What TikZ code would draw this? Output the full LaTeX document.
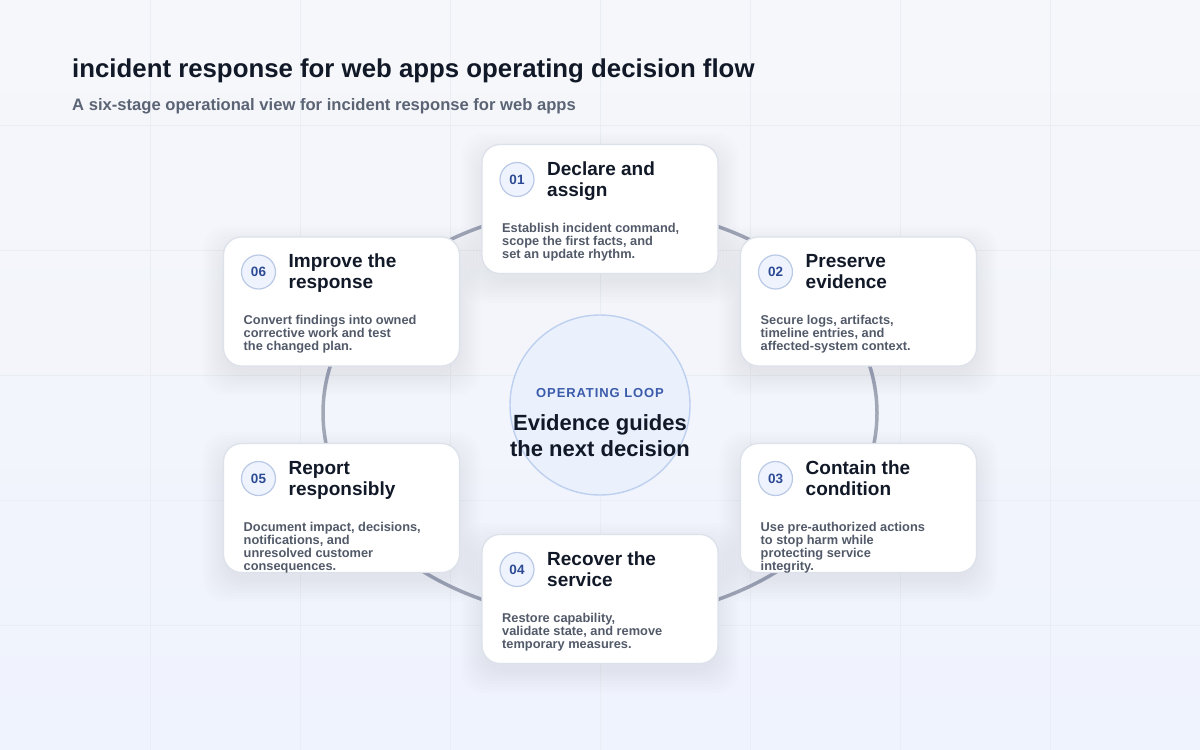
\documentclass[tikz,border=0pt]{standalone}
\usepackage{fontspec}
\setmainfont{Liberation Sans}
\newfontfamily\spacedfont[LetterSpace=7]{Liberation Sans}
\usetikzlibrary{calc}
\definecolor{bgtop}{HTML}{F6F7FA}
\definecolor{bgbot}{HTML}{EFF3FD}
\definecolor{gridc}{HTML}{E9EDF4}
\definecolor{ringc}{HTML}{A2A8B5}
\definecolor{cardline}{HTML}{DCE1EA}
\definecolor{numfill}{HTML}{EEF3FD}
\definecolor{numline}{HTML}{B9C9E6}
\definecolor{numtext}{HTML}{2D4A94}
\definecolor{ink}{HTML}{111827}
\definecolor{muted}{HTML}{525A69}
\definecolor{subc}{HTML}{5B6475}
\definecolor{hubfill}{HTML}{EAF1FD}
\definecolor{hubline}{HTML}{BDD0EF}
\definecolor{hubtext}{HTML}{3B5BAB}
\tikzset{
  gridline/.style={draw=gridc, line width=1pt},
  ringline/.style={draw=ringc, line width=3.5pt},
  card/.style={draw=cardline, line width=1.3pt, fill=white, rounded corners=18pt,
    minimum width=236pt, minimum height=129pt, inner sep=0pt},
  numc/.style={circle, draw=numline, line width=1.2pt, fill=numfill, minimum size=34pt,
    inner sep=0pt, font=\bfseries\fontsize{13.5}{13.5}\selectfont, text=numtext},
  ttl/.style={anchor=base west, inner sep=0pt, font=\bfseries\fontsize{19}{21}\selectfont, text=ink},
  dsc/.style={anchor=base west, inner sep=0pt, font=\bfseries\fontsize{12.8}{13}\selectfont, text=muted},
  hubc/.style={circle, draw=hubline, line width=1.4pt, fill=hubfill, minimum size=180pt, inner sep=0pt},
  shadowlayer/.style={fill=black!70!blue, opacity=0.008, rounded corners=24pt},
}
\newcommand\stagecard[6]{%
  \foreach \k in {0,3,...,21}
    \fill[shadowlayer] ($(#2,#3)+(-118-\k,-64-\k+9)$) rectangle ($(#2,#3)+(118+\k,64+\k+9)$);
  \node[card] (#1) at (#2,#3) {};
  \node[numc] (#1-num) at ($(#1)+(-83,-29.5)$) {#4};
  \foreach \t [count=\i] in {#5}
    \node[ttl] (#1-t\i) at ($(#1)+(-53,-55+21*\i)$) {\t};
  \foreach \d [count=\i] in {#6}
    \node[dsc] (#1-d\i) at ($(#1)+(-98,10+13*\i)$) {\d};
}
\begin{document}
\begin{tikzpicture}[x=1pt,y=-1pt]
\useasboundingbox (0,0) rectangle (1200,750);
\shade[top color=bgtop, bottom color=bgbot] (0,0) rectangle (1200,750);
\foreach \gx in {150,300,...,1050} \draw[gridline] (\gx,0) -- (\gx,750);
\foreach \gy in {125,250,...,625} \draw[gridline] (0,\gy) -- (1200,\gy);

\node[anchor=base west, inner sep=0pt, font=\bfseries\fontsize{25.8}{28}\selectfont, text=ink] (title) at (72,77) {incident response for web apps operating decision flow};
\node[anchor=base west, inner sep=0pt, font=\bfseries\fontsize{16.6}{18}\selectfont, text=subc] (subtitle) at (72,110) {A six-stage operational view for incident response for web apps};

\coordinate (ringcenter) at (600,413);
\draw[ringline] (ringcenter) ellipse [x radius=277, y radius=206];

\node[hubc] (hub) at (600,405) {};
\node[anchor=base, inner sep=0pt, font=\spacedfont\bfseries\fontsize{13}{13}\selectfont, text=hubtext] (hublabel) at (600,397) {OPERATING LOOP};
\node[anchor=base, inner sep=0pt, font=\bfseries\fontsize{22}{24}\selectfont, text=ink] (hubline1) at (600,430) {Evidence guides};
\node[anchor=base, inner sep=0pt, font=\bfseries\fontsize{22}{24}\selectfont, text=ink] (hubline2) at (600,456.5) {the next decision};

\stagecard{c1}{600}{209}{01}{Declare and,assign}{{Establish incident command,},{scope the first facts, and},{set an update rhythm.}}
\stagecard{c2}{858.5}{301.5}{02}{Preserve,evidence}{{Secure logs, artifacts,},{timeline entries, and},{affected-system context.}}
\stagecard{c3}{858.5}{508}{03}{Contain the,condition}{{Use pre-authorized actions},{to stop harm while},{protecting service},{integrity.}}
\stagecard{c4}{600}{599}{04}{Recover the,service}{{Restore capability,},{validate state, and remove},{temporary measures.}}
\stagecard{c5}{341.5}{508}{05}{Report,responsibly}{{Document impact, decisions,},{notifications, and},{unresolved customer},{consequences.}}
\stagecard{c6}{341.5}{301.5}{06}{Improve the,response}{{Convert findings into owned},{corrective work and test},{the changed plan.}}
\end{tikzpicture}
\end{document}
